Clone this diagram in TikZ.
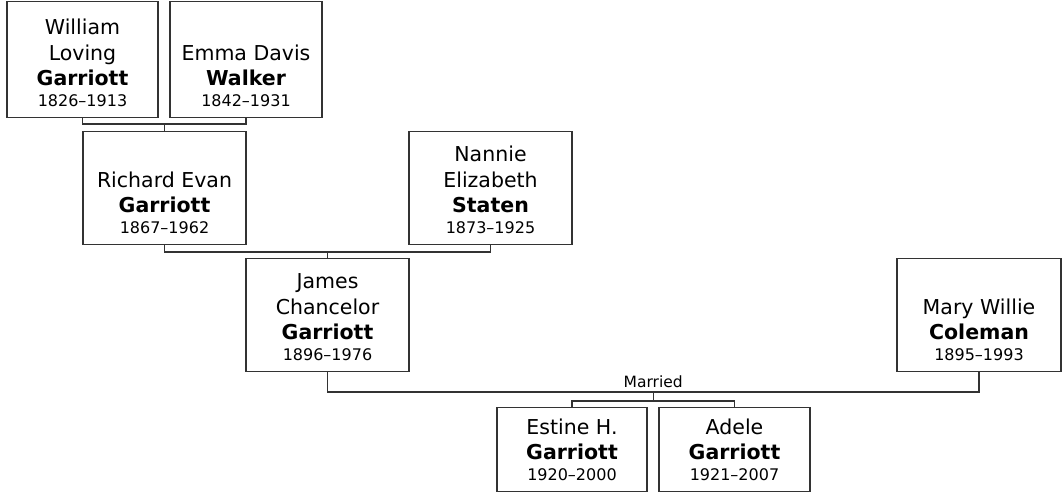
\documentclass[tikz,border=0pt]{standalone}
\usepackage{fontspec}
\setmainfont{DejaVu Sans}
\newcommand{\yrs}[1]{\\[-4.5pt]{\fontsize{16}{18}\selectfont #1}}
\newcommand{\ptext}[3]{\parbox[c][#2][b]{#1}{\centering #3}}
\tikzset{
  x=1pt, y=-1pt,
  person/.style={draw=black!80, line width=1.2pt, fill=white,
    inner xsep=0pt, inner ysep=10pt, font=\fontsize{20.5}{25.5}\selectfont},
  link/.style={draw=black!80, line width=1.1pt},
  lbl/.style={font=\fontsize{15.5}{18}\selectfont, inner sep=0pt, anchor=base}
}
\begin{document}
\begin{tikzpicture}
\useasboundingbox[fill=white] (0,0) rectangle (1062,493);
% generation 1
\node[person] (w) at (82.5,59.5)
  {\ptext{151pt}{95pt}{William\\Loving\\\textbf{Garriott}\yrs{1826–1913}}};
\node[person] (e) at (246,59.5)
  {\ptext{152pt}{95pt}{Emma Davis\\\textbf{Walker}\yrs{1842–1931}}};
% generation 2
\node[person] (r) at (164.5,188)
  {\ptext{163pt}{92pt}{Richard Evan\\\textbf{Garriott}\yrs{1867–1962}}};
\node[person] (n) at (490.5,188)
  {\ptext{163pt}{92pt}{Nannie\\Elizabeth\\\textbf{Staten}\yrs{1873–1925}}};
% generation 3
\node[person] (j) at (327.5,315)
  {\ptext{163pt}{92pt}{James\\Chancelor\\\textbf{Garriott}\yrs{1896–1976}}};
\node[person] (m) at (979,315)
  {\ptext{164pt}{92pt}{Mary Willie\\\textbf{Coleman}\yrs{1895–1993}}};
% generation 4
\node[person] (es) at (572,449.5)
  {\ptext{150pt}{63pt}{Estine H.\\\textbf{Garriott}\yrs{1920–2000}}};
\node[person] (ad) at (734.5,449.5)
  {\ptext{151pt}{63pt}{Adele\\\textbf{Garriott}\yrs{1921–2007}}};
% junction points
\coordinate (c1) at (164.5,124);
\coordinate (c2) at (327.5,252);
\coordinate (c3) at (653.25,392);
\coordinate (c4) at (653.25,401);
% connectors
\draw[link] (w.south) |- (c1) -| (e.south);
\draw[link] (c1) -- (r.north);
\draw[link] (r.south) |- (c2) -| (n.south);
\draw[link] (c2) -- (j.north);
\draw[link] (j.south) |- (c3) -| (m.south);
\node[lbl] (mar) at (653.25,387) {Married};
\draw[link] (c3) -- (c4);
\draw[link] (es.north) |- (c4) -| (ad.north);
\end{tikzpicture}
\end{document}
